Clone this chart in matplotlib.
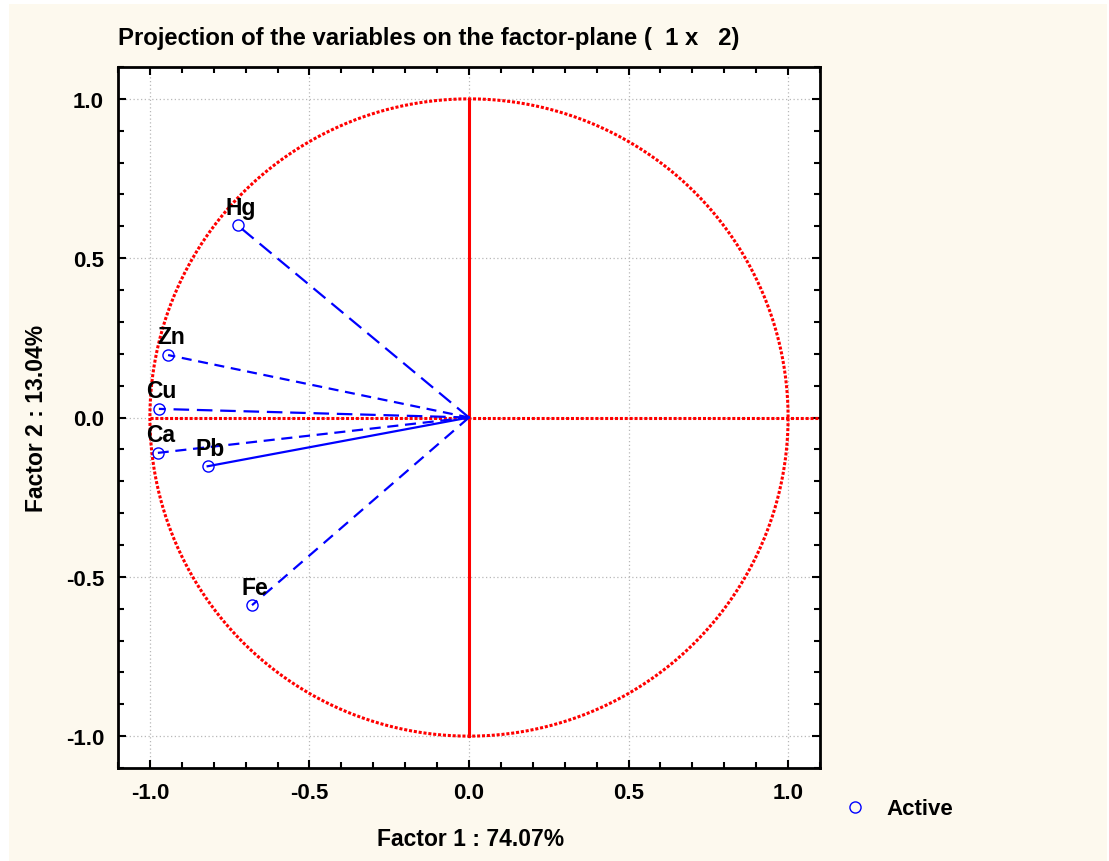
import numpy as np
import matplotlib
matplotlib.use("Agg")
import matplotlib.pyplot as plt
from matplotlib.lines import Line2D
from matplotlib.patches import Rectangle
from matplotlib.ticker import MultipleLocator

# factor loadings
variables = ["Hg", "Zn", "Cu", "Ca", "Pb", "Fe"]
factor1 = [-0.725, -0.943, -0.972, -0.975, -0.819, -0.680]
factor2 = [0.603, 0.196, 0.027, -0.111, -0.153, -0.589]
line_styles = [(0, (7, 3.5)), (0, (4.5, 3)), (0, (7, 3.5)), (0, (5, 3)), "-", (0, (5.5, 3.5))]

title = "Projection of the variables on the factor-plane (  1 x   2)"
xlabel = "Factor 1 : 74.07%"
ylabel = "Factor 2 : 13.04%"
ticks = [-1.0, -0.5, 0.0, 0.5, 1.0]

W, H = 1109, 862
plt.rcParams["font.family"] = ["Liberation Sans", "DejaVu Sans"]
plt.rcParams["font.weight"] = "bold"

fig = plt.figure(figsize=(W / 100, H / 100), dpi=100)
fig.patch.set_facecolor("white")
# cream panel behind everything
fig.patches.append(Rectangle((9 / W, 0), 1098 / W, 1 - 5 / H, transform=fig.transFigure,
                             facecolor="#fdf9ee", edgecolor="none", zorder=-10))

ax = fig.add_axes([118 / W, 1 - 769 / H, 702 / W, 701 / H])
ax.set_facecolor("white")
ax.set_xlim(-1.1, 1.1)
ax.set_ylim(-1.1, 1.1)

# unit circle and axes through origin
t = np.linspace(0, 2 * np.pi, 721)
ax.plot(np.cos(t), np.sin(t), color="red", lw=2.2, ls=(0, (1, 0.6)), zorder=2)
ax.plot([-1.0, 1.1], [0, 0], color="red", lw=2.2, ls=(0, (1, 0.6)), zorder=2)
ax.plot([0, 0], [-1.0, 1.0], color="red", lw=2.2, zorder=2)

for name, x, y, ls in zip(variables, factor1, factor2, line_styles):
    ax.plot([0, x], [0, y], color="blue", lw=1.6, ls=ls, zorder=3)
    ax.annotate(name, (x, y), xytext=(2, 13), textcoords="offset points",
                ha="center", va="center", fontsize=16.5, fontweight="bold", zorder=5)
ax.plot(factor1, factor2, ls="none", marker="o", ms=8, mfc="none", mec="blue", mew=1,
        label="Active", zorder=4)

ax.set_xticks(ticks)
ax.set_yticks(ticks)
ax.set_xticklabels([f"{v:.1f}" for v in ticks])
ax.set_yticklabels([f"{v:.1f}" for v in ticks])
ax.xaxis.set_minor_locator(MultipleLocator(0.1))
ax.yaxis.set_minor_locator(MultipleLocator(0.1))
ax.tick_params(which="both", direction="in", top=True, right=True, width=1.5, labelsize=16)
ax.tick_params(which="major", length=6, pad=10)
ax.tick_params(which="minor", length=4)
ax.grid(True, which="major", color="#b8b8b8", ls=(0, (1, 2)), lw=0.9)
for s in ax.spines.values():
    s.set_linewidth(2)

fig.text(471 / W, 1 - 840 / H, xlabel, ha="center", va="center", fontsize=16.5, fontweight="bold")
fig.text(37 / W, 1 - 418 / H, ylabel, ha="center", va="center", rotation=90,
         fontsize=16.5, fontweight="bold")
fig.text(118 / W, 1 - 38 / H, title, ha="left", va="center", fontsize=17.2,
         fontweight="bold", family=["Liberation Sans Narrow", "Liberation Sans", "DejaVu Sans"])

handle = Line2D([], [], ls="none", marker="o", ms=8, mfc="none", mec="blue", mew=1)
fig.legend([handle], ["Active"], loc="center left", bbox_to_anchor=(822 / W, 1 - 810 / H),
           frameon=False, fontsize=16, handletextpad=0.4, borderpad=0)

fig.savefig("out.png", dpi=100)
